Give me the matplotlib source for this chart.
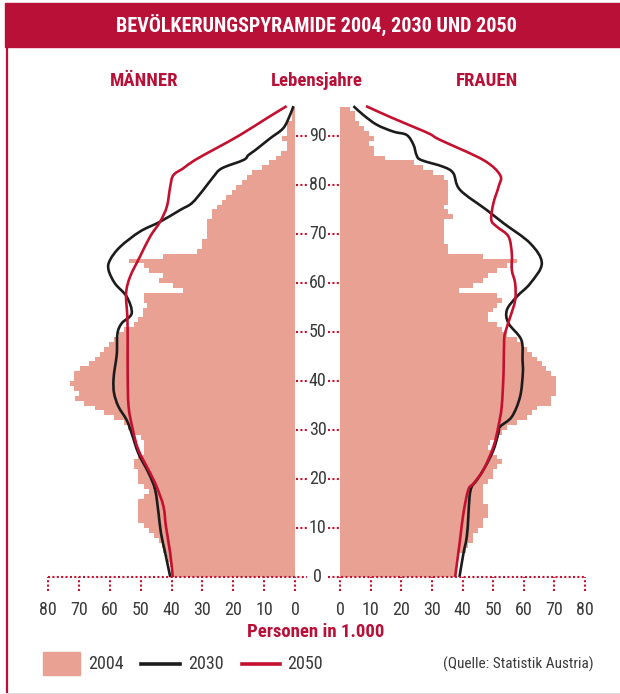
import matplotlib
matplotlib.use("Agg")
import matplotlib.pyplot as plt
from matplotlib import font_manager
from matplotlib.patches import Rectangle, PathPatch
from matplotlib.lines import Line2D
from matplotlib.path import Path
import numpy as np

# ---------------- data ----------------
ages = list(range(0, 96))

men_2004 = [39.5, 40, 40.5, 41, 41.5, 42.6, 43, 44.2, 45.8, 47.4,
            49, 50.7, 50.7, 50.7, 50.7, 50.7, 49, 47.4, 49, 50.7,
            50.7, 50.7, 52.3, 52.3, 50.7, 49, 49, 49, 50, 52,
            54, 55.5, 58.6, 61.8, 64.7, 68.2, 71.2, 69.9, 71.5, 72.8,
            71.5, 71.5, 69.6, 66.7, 64.8, 63, 61.8, 60.2, 58.6, 57,
            55.4, 52.3, 50.7, 49.1, 49.1, 48, 49, 49, 36.3, 39.6,
            44.2, 42.8, 47.4, 49, 53.9, 42.6, 31.6, 30, 30, 28.6,
            28.6, 28.6, 28.6, 27, 27, 25.4, 23.8, 22.2, 20.5, 19,
            17.3, 15.7, 14, 10.8, 8.3, 6.1, 4.5, 2.7, 2.7, 4.3,
            2.7, 2.7, 2.7, 1.1, 1.1, 1.1]

women_2004 = [37.5, 38, 38, 38.5, 39, 41, 41.9, 43.4, 43.4, 45,
              46.6, 46.6, 48.2, 48.2, 48.2, 46.6, 46.6, 46.6, 46.6, 48.2,
              49.8, 49.8, 51.2, 52.8, 51.2, 49.6, 48.2, 49, 50.5, 52.8,
              54.4, 57.7, 61, 62.6, 64.3, 69, 69, 70.6, 70.6, 70.6,
              70.6, 69, 67.3, 65.9, 64.3, 62.6, 61, 59.4, 57.7, 54.4,
              52.8, 51.2, 48.2, 48.2, 49.8, 51.2, 52.8, 51.2, 38.7, 43.4,
              46.6, 48.2, 51.2, 54.4, 57.7, 46.6, 35.4, 35.4, 33.8, 33.8,
              33.8, 33.8, 33.8, 36.8, 35.4, 33.8, 35.4, 35.4, 35.4, 35.4,
              35.4, 33.8, 30.5, 27.2, 24, 14.7, 11.2, 11.2, 9.5, 11.2,
              9.5, 7.8, 6.3, 4.9, 4.9, 3.3]

men_2030_age = [0, 4.8, 8.9, 13, 17.8, 21.2, 25.2, 29.3, 32, 34.8, 37.5, 40.2,
                42.9, 45.6, 49.7, 51.8, 53.8, 57.2, 59.9, 62.7, 64.7, 67.4,
                70.5, 72.5, 74.9, 76.3, 79, 81.7, 83.4, 85.1, 86.1, 87.1,
                89.5, 91.6, 94.3, 96.1]
men_2030_val = [40.4, 42, 43.4, 44.2, 45.3, 47.4, 50.7, 52.9, 54.5, 57.2, 58.6, 58.8,
                58.3, 57.7, 57.5, 56.1, 52.9, 54.5, 58.3, 60.4, 59.9, 56.6,
                50.2, 43.7, 37.2, 33.4, 29.7, 26.4, 23.7, 16.7, 15.1, 12.9,
                8.1, 3.8, 1.6, 0.5]

men_2050_age = [0, 4.8, 10.3, 14.4, 18.4, 21.2, 25.9, 30, 34.8, 41.6, 48.4,
                53.1, 57.9, 61.3, 65.4, 69.5, 72.5, 75.6, 79.7, 82, 83.4,
                85.1, 87.5, 90.2, 93.6, 96.1]
men_2050_val = [39.6, 40.4, 41.8, 42.6, 44.8, 46.9, 50.7, 52.5, 53.9, 54.2, 54.2,
                54.3, 54.7, 53.4, 50.2, 46.9, 43.7, 41.5, 40.4, 39.4, 36.2,
                32.4, 25.5, 17.8, 9.2, 2.7]

women_2030_age = [0, 4.8, 8.2, 12.3, 16.4, 18.4, 19.8, 22.5, 25.9, 29.3, 30.7,
                  32.7, 36.8, 41.6, 44.3, 48.4, 51.8, 54.5, 57.2, 59.9, 64,
                  68.1, 72.2, 74.9, 79, 82.4, 83.7, 85.1, 86.1, 88.2, 90.2,
                  90.9, 92.3, 94.3, 96.1]
women_2030_val = [39, 40.3, 41.4, 41.9, 42.3, 43, 44.7, 47.4, 50.1, 51.7, 52.3,
                  56.1, 58.8, 59.7, 59.6, 59.2, 55, 54.5, 57.7, 62.1, 65.9,
                  62.1, 53.4, 47.9, 39.2, 37, 33.8, 26.5, 25, 24, 21.8,
                  17.4, 12, 7.6, 4.4]

women_2050_age = [0, 7.6, 13, 17.8, 19.1, 21.8, 26.6, 30.7, 34.8, 41.6, 48.4,
                  50.4, 53.1, 56.5, 59.9, 62.7, 66, 69.5, 71.5, 72.9, 76.3,
                  79.7, 82, 85.1, 89.2, 90.4, 91.6, 93.9, 96.1]
women_2050_val = [37.6, 39.2, 40.3, 41.9, 43.6, 46.8, 50.1, 51.7, 52.8, 53.4, 53.6,
                  54.2, 55.6, 57.2, 57.2, 56.1, 56.1, 55, 51.2, 49.4, 50.1,
                  51.8, 52.3, 46.8, 32.7, 29.4, 25, 16.3, 8.5]

age_ticks = [0, 10, 20, 30, 40, 50, 60, 70, 80, 90]
x_ticks = [0, 10, 20, 30, 40, 50, 60, 70, 80]

title = "BEVÖLKERUNGSPYRAMIDE 2004, 2030 UND 2050"
legend_labels = ["2004", "2030", "2050"]
source = "(Quelle: Statistik Austria)"

# ---------------- style ----------------
names = {f.name for f in font_manager.fontManager.ttflist}
narrow = None
for cand in ["Liberation Sans Narrow", "Roboto Condensed", "Open Sans Condensed",
             "DejaVu Sans Condensed"]:
    if cand in names:
        narrow = cand
        break
if narrow is None:
    narrow = "DejaVu Sans"
plt.rcParams["font.family"] = [narrow, "DejaVu Sans"]

PINK = "#E8A193"
RED = "#B81037"
LRED = "#C4112F"
BLACK = "#1c1c1c"
GRAY = "#3a3a3a"

W, H = 620, 694
fig = plt.figure(figsize=(W / 100, H / 100), dpi=100)


def fx(x):
    return x / W


def fy(y):
    return 1 - y / H


def smooth_path(xs, ys):
    """Catmull-Rom curve through the read points, drawn as cubic Bezier segments."""
    p = np.column_stack([xs, ys]).astype(float)
    n = len(p)
    verts = [p[0]]
    codes = [Path.MOVETO]
    for i in range(n - 1):
        p0 = p[i - 1] if i > 0 else p[i]
        p1 = p[i]
        p2 = p[i + 1]
        p3 = p[i + 2] if i + 2 < n else p[i + 1]
        c1 = p1 + (p2 - p0) / 6.0
        c2 = p2 - (p3 - p1) / 6.0
        verts += [c1, c2, p2]
        codes += [Path.CURVE4] * 3
    return Path(verts, codes)


def draw_line(ax, xs, ys, color, lw, z):
    patch = PathPatch(smooth_path(xs, ys), facecolor="none", edgecolor=color, lw=lw,
                      capstyle="butt", joinstyle="round", zorder=z, clip_on=False)
    ax.add_patch(patch)


# axes geometry (pixel positions)
y_age0 = 577
px_per_year = 4.9
ytop = 98
ax_bottom = fy(y_age0)
ax_h = ytop * px_per_year / H

axL = fig.add_axes([fx(48), ax_bottom, fx(295 - 48), ax_h])
axR = fig.add_axes([fx(340), ax_bottom, fx(585 - 340), ax_h])

for ax in (axL, axR):
    ax.set_facecolor("none")
    for s in ax.spines.values():
        s.set_visible(False)
    ax.set_ylim(0, ytop)
    ax.set_xticks(x_ticks)
    ax.set_xticklabels([str(t) for t in x_ticks])
    ax.tick_params(axis="x", length=0, pad=17, labelsize=13, labelcolor=GRAY)
    ax.set_yticks([])

axL.set_xlim(80, 0)
axR.set_xlim(0, 80)

# bars
axL.barh(ages, men_2004, height=1, align="edge", color=PINK, linewidth=0, zorder=1)
axR.barh(ages, women_2004, height=1, align="edge", color=PINK, linewidth=0, zorder=1)

# projection lines
lw = 1.9
draw_line(axL, men_2030_val, men_2030_age, BLACK, lw, 3)
draw_line(axL, men_2050_val, men_2050_age, LRED, lw, 4)
draw_line(axR, women_2030_val, women_2030_age, BLACK, lw, 3)
draw_line(axR, women_2050_val, women_2050_age, LRED, lw, 4)

# dotted baseline, ticks and leaders
dot = (0, (1, 1.1))
dlw = 1.5
axL.hlines(0, 80, -3.8, colors=LRED, linestyles=[dot], lw=dlw, clip_on=False, zorder=5)
axR.hlines(0, -3.8, 80, colors=LRED, linestyles=[dot], lw=dlw, clip_on=False, zorder=5)
axL.vlines(x_ticks, -2.8, 0, colors=LRED, linestyles=[dot], lw=dlw, clip_on=False)
axR.vlines(x_ticks, -2.8, 0, colors=LRED, linestyles=[dot], lw=dlw, clip_on=False)
axL.hlines(age_ticks[1:], -0.3, -3.8, colors=LRED, linestyles=[dot], lw=dlw, clip_on=False)
axR.hlines(age_ticks[1:], -3.8, -0.3, colors=LRED, linestyles=[dot], lw=dlw, clip_on=False)

# age labels centered between the halves
for a in age_ticks:
    axR.text(-7.3, a, str(a), ha="center", va="center", fontsize=13, color=GRAY,
             clip_on=False)

# header texts
fig.patches.append(Rectangle((fx(5), fy(47)), 1 - fx(5), fy(3) - fy(47),
                             transform=fig.transFigure, color=RED, zorder=0))
fig.text(fx(316), fy(25), title, color="white", fontsize=14.5, fontweight="bold",
         ha="center", va="center")
fig.lines.append(Line2D([fx(7), fx(7)], [fy(47), fy(692)], transform=fig.transFigure,
                        color=RED, lw=1.6))
fig.lines.append(Line2D([fx(7), 1], [fy(692.5), fy(692.5)], transform=fig.transFigure,
                        color="#dddddd", lw=0.8))

fig.text(fx(144), fy(81), "MÄNNER", color=RED, fontsize=13.5, fontweight="bold",
         ha="center", va="center")
fig.text(fx(317), fy(81), "Lebensjahre", color=RED, fontsize=13.5, fontweight="bold",
         ha="center", va="center")
fig.text(fx(487), fy(81), "FRAUEN", color=RED, fontsize=13.5, fontweight="bold",
         ha="center", va="center")
fig.text(fx(316), fy(632), "Personen in 1.000", color=RED, fontsize=13.5,
         fontweight="bold", ha="center", va="center")

# legend
ly = 664
fig.patches.append(Rectangle((fx(43), fy(675)), fx(80) - fx(43), fy(652) - fy(675),
                             transform=fig.transFigure, color=PINK))
fig.text(fx(88), fy(ly), legend_labels[0], fontsize=13, color=GRAY, va="center")
fig.lines.append(Line2D([fx(141), fx(180)], [fy(ly), fy(ly)], transform=fig.transFigure,
                        color=BLACK, lw=2.6))
fig.text(fx(188), fy(ly), legend_labels[1], fontsize=13, color=GRAY, va="center")
fig.lines.append(Line2D([fx(242), fx(280)], [fy(ly), fy(ly)], transform=fig.transFigure,
                        color=LRED, lw=2.6))
fig.text(fx(287), fy(ly), legend_labels[2], fontsize=13, color=GRAY, va="center")
fig.text(fx(594), fy(ly), source, fontsize=11, color=GRAY, ha="right", va="center")

fig.savefig("out.png", dpi=100)
